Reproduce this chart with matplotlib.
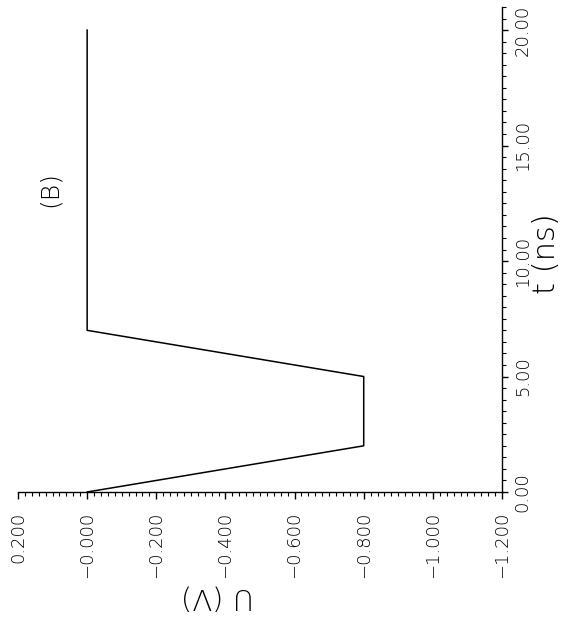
import numpy as np
import matplotlib
matplotlib.use("Agg")
from matplotlib import pyplot as plt
from matplotlib.ticker import MultipleLocator

# pulse: time (ns) vs voltage (V)
t_ns = [0.0, 2.0, 5.0, 7.0, 20.0]
u_volts = [0.0, -0.8, -0.8, 0.0, 0.0]

u_ticks = [0.2, 0.0, -0.2, -0.4, -0.6, -0.8, -1.0, -1.2]
u_labels = ["0.200", "\u22120.000", "\u22120.200", "\u22120.400", "\u22120.600",
            "\u22120.800", "\u22121.000", "\u22121.200"]
t_ticks = [0.0, 5.0, 10.0, 15.0, 20.0]
t_labels = ["0.00", "5.00", "10.00", "15.00", "20.00"]

plt.rcParams['font.family'] = ['DejaVu Sans']
plt.rcParams['font.weight'] = 'light'

fig = plt.figure(figsize=(5.66, 6.24), dpi=100)
# whole chart is drawn turned a quarter turn: U runs along the bottom, t up the right side
ax = fig.add_axes([18/566, (624-492)/624, 484/566, 485/624])

ax.plot(u_volts, t_ns, color='black', lw=1.1)

ax.set_xlim(0.2, -1.2)
ax.set_ylim(0, 21)

ax.spines['top'].set_visible(False)
ax.spines['left'].set_visible(False)
ax.spines['bottom'].set_linewidth(1.0)
ax.spines['right'].set_linewidth(1.0)

ax.set_xticks(u_ticks)
ax.set_xticklabels(u_labels, rotation=90, fontsize=13)
ax.xaxis.set_minor_locator(MultipleLocator(0.02))
ax.tick_params(axis='x', which='major', direction='out', length=5, width=1, pad=9)
ax.tick_params(axis='x', which='minor', direction='out', length=3, width=0.8)

ax.yaxis.tick_right()
ax.set_yticks(t_ticks)
ax.set_yticklabels(t_labels, rotation=90, fontsize=13, va='center')
ax.yaxis.set_minor_locator(MultipleLocator(0.5))
ax.tick_params(axis='y', which='major', direction='out', length=4.5, width=1, pad=4)
ax.tick_params(axis='y', which='minor', direction='out', length=3, width=0.8)

ax.text(1.092, 0.491, "t (ns)", transform=ax.transAxes, rotation=90,
        ha='center', va='center', fontsize=22)
ax.text(0.413, -0.216, "U (V)", transform=ax.transAxes, rotation=180,
        ha='center', va='center', fontsize=21)
ax.text(0.107, 13.1, "(B)", rotation=90, ha='center', va='center', fontsize=18)

fig.savefig("out.png", dpi=100)
